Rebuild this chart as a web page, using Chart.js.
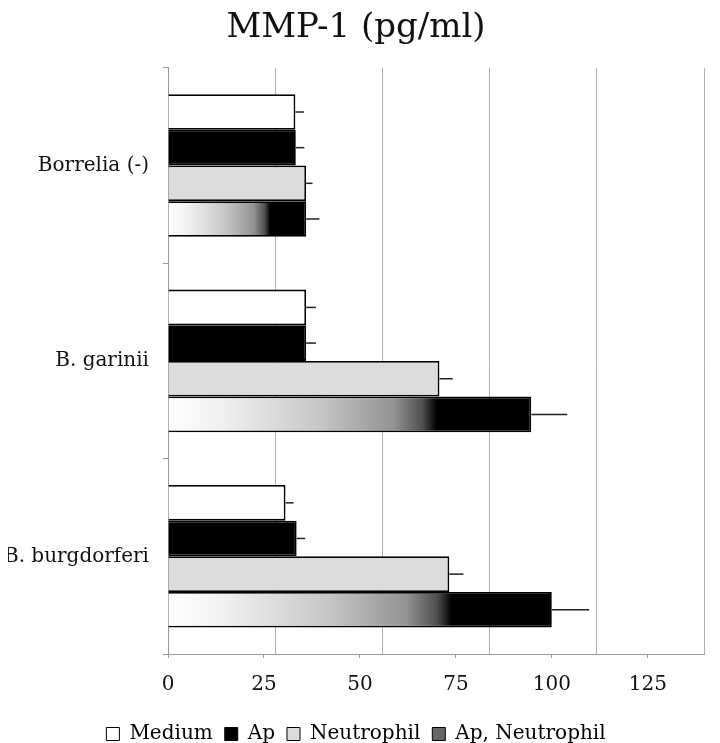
<!DOCTYPE html>
<html>
<head>
<meta charset="utf-8">
<script src="https://cdn.jsdelivr.net/npm/chart.js@4"></script>
<style>
  html, body { margin: 0; background: #fff; }
  #wrap { width: 720px; height: 743px; }
</style>
</head>
<body>
<div id="wrap"><canvas id="mmp"></canvas></div>
<script>
// values (pg/ml), error = upper SD only
var categories = ['Borrelia (-)', 'B. garinii', 'B. burgdorferi'];
var seriesNames = ['Medium', 'Ap', 'Neutrophil', 'Ap, Neutrophil'];
var medium = [29.7, 32.2, 27.4];
var ap = [29.8, 32.2, 30.0];
var neutrophil = [32.2, 63.3, 65.6];
var apNeutrophil = [32.2, 84.7, 89.5];
var mediumErr = [2.0, 2.3, 1.9];
var apErr = [2.0, 2.3, 2.0];
var neutrophilErr = [1.5, 3.1, 3.3];
var apNeutrophilErr = [3.1, 8.4, 8.7];
var tickLabels = [0, 25, 50, 75, 100, 125];

Chart.defaults.font.family = '"DejaVu Serif", "Liberation Serif", serif';
Chart.defaults.font.size = 20;
Chart.defaults.color = '#111';

var legendFill = ['#ffffff', '#000000', '#dcdcdc', '#666666'];

// white -> grey -> black fade along each bar
function fadeFill(c) {
    var chart = c.chart;
    if (!chart.chartArea || c.raw == null) return '#888';
    var xs = chart.scales.x;
    var x0 = xs.getPixelForValue(0);
    var x1 = xs.getPixelForValue(c.raw);
    var g = chart.ctx.createLinearGradient(x0, 0, x1, 0);
    g.addColorStop(0, '#ffffff');
    g.addColorStop(0.15, '#f0f0f0');
    g.addColorStop(0.42, '#c6c6c6');
    g.addColorStop(0.62, '#939393');
    g.addColorStop(0.7, '#505050');
    g.addColorStop(0.74, '#000000');
    g.addColorStop(1, '#000000');
    return g;
}

var errorBars = {
    id: 'errorBars',
    afterDatasetsDraw: function (chart) {
        var ctx = chart.ctx;
        var xs = chart.scales.x;
        ctx.save();
        ctx.strokeStyle = '#222';
        ctx.lineWidth = 1.5;
        chart.data.datasets.forEach(function (ds, d) {
            chart.getDatasetMeta(d).data.forEach(function (bar, i) {
                var end = xs.getPixelForValue(ds.data[i] + ds.errors[i]);
                ctx.beginPath();
                ctx.moveTo(bar.x, bar.y);
                ctx.lineTo(end, bar.y);
                ctx.stroke();
            });
        });
        ctx.restore();
    }
};

var ctx = document.getElementById('mmp').getContext('2d');
var chart = new Chart(ctx, {
    type: 'bar',
    data: {
        labels: categories,
        datasets: [
            { label: seriesNames[0], data: medium, errors: mediumErr, backgroundColor: '#ffffff' },
            { label: seriesNames[1], data: ap, errors: apErr, backgroundColor: '#000000' },
            { label: seriesNames[2], data: neutrophil, errors: neutrophilErr, backgroundColor: '#dcdcdc' },
            { label: seriesNames[3], data: apNeutrophil, errors: apNeutrophilErr, backgroundColor: fadeFill }
        ]
    },
    options: {
        indexAxis: 'y',
        responsive: true,
        maintainAspectRatio: false,
        animation: false,
        datasets: {
            bar: {
                borderColor: '#000',
                borderWidth: 1.8,
                categoryPercentage: 0.73,
                barPercentage: 1.0
            }
        },
        // legend sits low, as in the cropped original
        layout: { padding: { left: 8, right: 16, top: 0, bottom: -11 } },
        scales: {
            x: {
                min: 0,
                max: 125,
                ticks: { stepSize: 25, display: false },
                grid: { color: '#b0b0b0', drawTicks: false },
                border: { display: false }
            },
            // the printed labels in the original sit slightly off the gridlines
            x2: {
                type: 'linear',
                position: 'bottom',
                min: 0,
                max: 139.6,
                afterBuildTicks: function (s) {
                    s.ticks = tickLabels.map(function (v) { return { value: v }; });
                },
                ticks: { padding: 15, autoSkip: false, maxRotation: 0 },
                grid: { drawOnChartArea: false, tickLength: 4, color: '#999' },
                border: { color: '#999' }
            },
            y: {
                offset: true,
                grid: { drawOnChartArea: false, offset: true, tickLength: 5, color: '#999' },
                border: { color: '#999' },
                ticks: { padding: 14 },
                afterFit: function (s) { s.width = 160; }
            }
        },
        plugins: {
            title: {
                display: true,
                text: 'MMP-1 (pg/ml)',
                color: '#111',
                font: { size: 34, weight: 'normal' },
                padding: { top: 8, bottom: 19 }
            },
            legend: {
                position: 'bottom',
                labels: {
                    boxWidth: 13,
                    boxHeight: 13,
                    padding: 12,
                    generateLabels: function () {
                        return seriesNames.map(function (name, i) {
                            return {
                                text: name,
                                fillStyle: legendFill[i],
                                strokeStyle: '#000',
                                lineWidth: 1,
                                datasetIndex: i,
                                hidden: false
                            };
                        });
                    }
                }
            },
            tooltip: { enabled: false }
        }
    },
    plugins: [errorBars]
});
</script>
</body>
</html>
